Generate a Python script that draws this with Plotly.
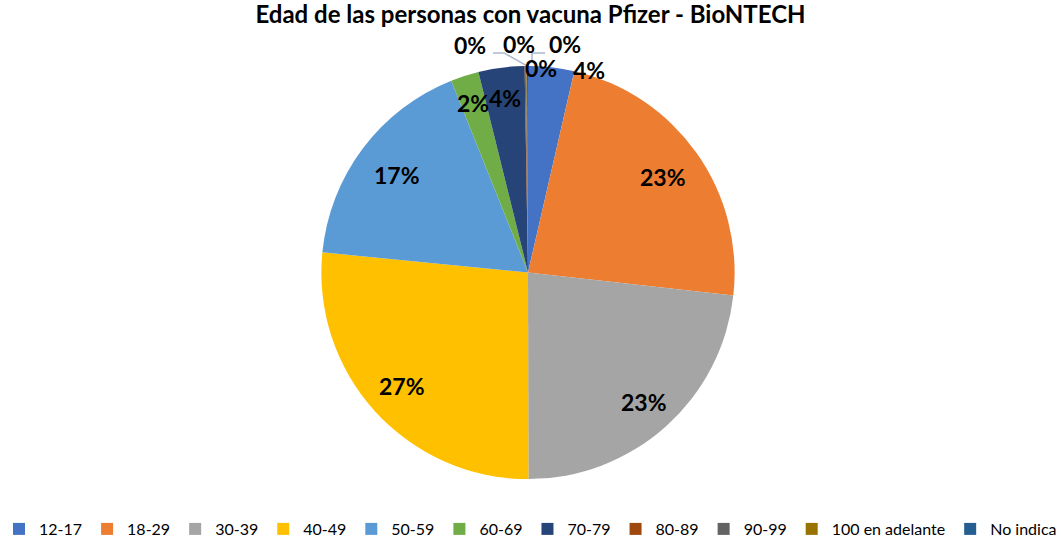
import math
import plotly.graph_objects as go

# ---------------- data ----------------
categories = ["12-17", "18-29", "30-39", "40-49", "50-59", "60-69", "70-79",
              "80-89", "90-99", "100 en adelante", "No indica"]
values = [3.6, 23.2, 23.2, 26.6, 17.4, 2.2, 3.6, 0.08, 0.06, 0.04, 0.08]

# ---------------- style ----------------
colors = ["#4472C4", "#ED7D31", "#A5A5A5", "#FFC000", "#5B9BD5", "#70AD47",
          "#264478", "#9E480E", "#636363", "#997300", "#255E91"]
W, H = 1061, 546
CX, CY, R = 528, 273, 207          # pie centre / radius in pixels
label_k = [None, 0.80, 0.84, 0.82, 0.79, 0.86, 0.85, None, None, None, None]
# callout positions (px) for labels Excel placed outside the pie
callout_pos = {0: (589, 70), 7: (470, 45), 8: (519, 44), 9: (565, 44), 10: (541, 68)}
leader_lines = [[(493, 53), (504, 53), (527, 66)],
                [(532, 60), (532, 53), (545, 53)]]

total = sum(values)

fig = go.Figure()
fig.add_trace(go.Pie(
    labels=categories,
    values=values,
    sort=False,
    direction="clockwise",
    rotation=0,
    marker=dict(colors=colors, line=dict(width=0)),
    textinfo="none",
    hoverinfo="label+percent",
    domain=dict(x=[0, 2 * CX / W],
                y=[(H - CY - R) / H, (H - CY + R) / H]),
))

annotations = []
cum = 0.0
for i, v in enumerate(values):
    pct = f"{round(v / total * 100):.0f}%"
    if i in callout_pos:
        x, y = callout_pos[i]
    else:
        theta = 2 * math.pi * (cum + v / 2) / total
        x = CX + label_k[i] * R * math.sin(theta)
        y = CY - label_k[i] * R * math.cos(theta)
    annotations.append(dict(x=x, y=y, xref="x", yref="y", text=f"<b>{pct}</b>",
                            showarrow=False, xanchor="center", yanchor="middle",
                            font=dict(family="Lato", size=23, color="black")))
    cum += v

shapes = []
for pts in leader_lines:
    path = "M" + " L".join(f"{px},{py}" for px, py in pts)
    shapes.append(dict(type="path", path=path, xref="x", yref="y",
                       line=dict(color="#A9B9D0", width=1.5), layer="above"))

fig.update_layout(
    width=W, height=H,
    margin=dict(l=0, r=0, t=0, b=0),
    paper_bgcolor="white", plot_bgcolor="rgba(0,0,0,0)",
    xaxis=dict(range=[0, W], visible=False, fixedrange=True),
    yaxis=dict(range=[H, 0], visible=False, fixedrange=True),
    annotations=annotations,
    shapes=shapes,
    title=dict(text="<b>Edad de las personas con vacuna Pfizer - BioNTECH</b>",
               x=0.5, xanchor="center", y=1 - 15 / H, yanchor="middle",
               font=dict(family="Lato", size=24, color="black")),
    legend=dict(orientation="h", x=0.5, xanchor="center",
                y=(H - 530) / H, yanchor="middle",
                font=dict(family="Lato", size=16, color="black"),
                itemwidth=30, bgcolor="rgba(0,0,0,0)"),
    showlegend=True,
)

fig.write_html("out.html", config={"displayModeBar": False},
               post_script="document.body.style.margin='0';")
